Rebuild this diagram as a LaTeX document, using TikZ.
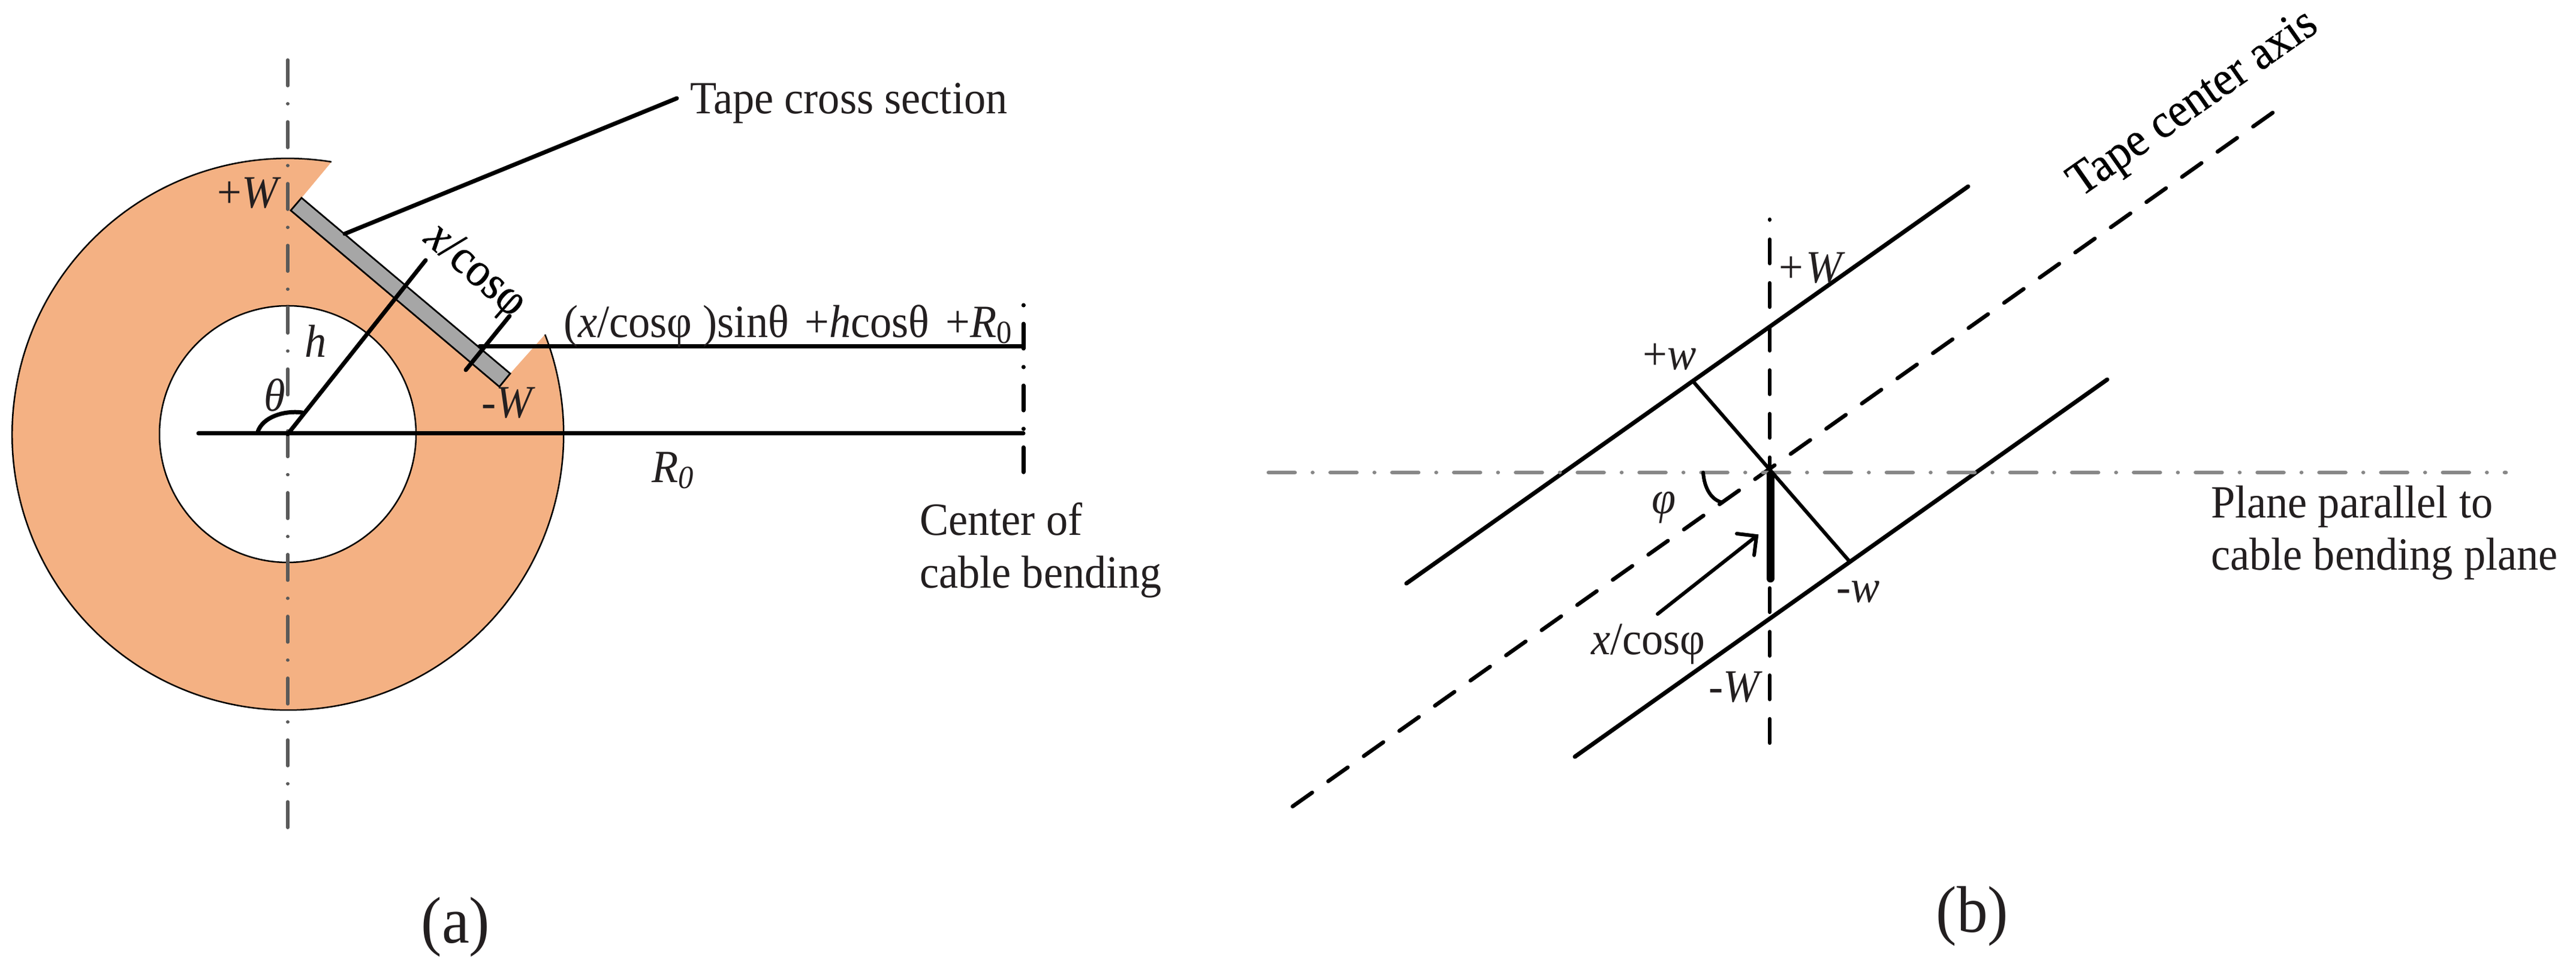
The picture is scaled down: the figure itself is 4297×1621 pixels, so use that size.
\documentclass[tikz,border=0pt]{standalone}
\usepackage{fontspec}
\setmainfont{Liberation Serif}
\newfontfamily\heavier{Liberation Serif}[FakeBold=0.5]
\definecolor{ringc}{RGB}{244,177,131}
\definecolor{tapec}{RGB}{166,166,166}
\definecolor{txt}{RGB}{35,31,32}
\definecolor{axisd}{RGB}{89,89,89}
\definecolor{axisl}{RGB}{136,136,136}
\tikzset{
  lbl/.style={font=\fontsize{7.7}{9}\selectfont,text=txt,inner sep=0pt,outer sep=0pt,xscale=0.94},
  hvy/.style={font=\fontsize{8}{9}\selectfont\heavier,text=black,inner sep=0pt,outer sep=0pt,xscale=0.94},
  capt/.style={font=\fontsize{11}{12}\selectfont,text=txt,inner sep=0pt,xscale=0.94},
  ln/.style={line width=0.7pt,line cap=round,black},
  thn/.style={line width=0.6pt,line cap=round,black},
  thinl/.style={line width=0.25pt,black},
  cdash/.style={line width=0.65pt,line cap=round,black,dash pattern=on 4.0pt off 3.27pt},
  ddotA/.style={line width=0.55pt,line cap=round,axisd,dash pattern=on 4.3pt off 3pt on 0.01pt off 3pt},
  ddotB/.style={line width=0.65pt,line cap=round,axisl,dash pattern=on 4.4pt off 2.95pt on 0.01pt off 2.95pt},
  ddotC/.style={line width=0.7pt,line cap=round,black,dash pattern=on 0.01pt off 3.1pt on 4.1pt off 3.1pt},
}
\newcommand{\gapp}{\kern0.9pt}
\begin{document}
\begin{tikzpicture}[x=0.1pt,y=-0.1pt]
\useasboundingbox (0,0) rectangle (4297,1621);
\fill[white] (0,0) rectangle (4297,1621);
% ---- panel (a) ----
\coordinate (O) at (480,724);
\coordinate (notchA) at (553,270);
\coordinate (notchB) at (908,558);
\coordinate (tA) at (503,330);
\coordinate (tB) at (485,351);
\coordinate (tC) at (833,645);
\coordinate (tD) at (851,623);
\fill[ringc] (notchA) arc[start angle=-80.9,end angle=-381.2,radius=460] -- (tD) -- (tC) -- (tB) -- (tA) -- cycle;
\draw[thinl] (notchA) arc[start angle=-80.9,end angle=-381.2,radius=460];
\draw[thinl,fill=white] (O) circle[radius=214];
\coordinate (axT) at (480,100);
\coordinate (axB) at (480,1382);
\draw[ddotA] (axT) -- (axB);
\draw[line width=0.28pt,fill=tapec,line join=miter] (tA) -- (tB) -- (tC) -- (tD) -- cycle;
\coordinate (hE) at (710,434);
\draw[ln] (O) -- (hE);
\coordinate (xT) at (850,527);
\coordinate (xB) at (777,617);
\draw[ln] (xT) -- (xB);
\coordinate (ldA) at (575,390);
\coordinate (ldB) at (1129,164);
\draw[ln] (ldA) -- (ldB);
\coordinate (lnL) at (331,723);
\coordinate (lnR) at (1707,723);
\draw[ln] (lnL) -- (lnR);
\coordinate (fL) at (800,578);
\coordinate (fR) at (1707,578);
\draw[ln] (fL) -- (fR);
\coordinate (cT) at (1707,509);
\coordinate (cB) at (1707,789);
\draw[ddotC] (cT) -- (cB);
\coordinate (thA) at (430,720);
\coordinate (thB) at (504,688);
\draw[ln] (thA) .. controls (438,696) and (473,684) .. (thB);
\node[lbl,anchor=base west] (tcs) at (1151,190) {Tape cross section};
\node[lbl] (pW) at (416,322) {+\textit{W}};
\node[lbl] (mW) at (848,672) {-\textit{W}};
\node[lbl] (h) at (527,569) {\textit{h}};
\node[lbl] (th) at (458,659) {\textit{θ}};
\node[rotate=-41,hvy] (xc) at (791,453) {\textit{x}/cosφ};
\node[lbl,anchor=base west] (form) at (940,563) {(\textit{x}/cosφ )sinθ\gapp{} +\textit{h}cosθ\gapp{} +\textit{R}\textsubscript{0}};
\node[lbl,anchor=base west] (R0) at (1087,805) {\textit{R\textsubscript{0}}};
\node[lbl,anchor=base west] (ctr1) at (1534,893) {Center of};
\node[lbl,anchor=base west] (ctr2) at (1534,981) {cable bending};
\node[capt] (a) at (760,1546) {(a)};
% ---- panel (b) ----
\coordinate (P) at (2953,788);
\coordinate (uL) at (2346,973);
\coordinate (uR) at (3283,311);
\draw[ln] (uL) -- (uR);
\coordinate (lL) at (2627,1262);
\coordinate (lR) at (3515,633);
\draw[ln] (lL) -- (lR);
\coordinate (mT) at (3791,188);
\coordinate (mB) at (2156,1345);
\draw[cdash] (mT) -- (mB);
\coordinate (vB) at (2952,1239);
\coordinate (vT) at (2952,366);
\draw[cdash] (vB) -- (vT);
\coordinate (gL) at (2116,788);
\coordinate (gR) at (4180,788);
\draw[ddotB] (gL) -- (gR);
\coordinate (wU) at (2825,637);
\coordinate (wD) at (3084,935);
\draw[thn] (wU) -- (wD);
\coordinate (thT) at (2953,792);
\coordinate (thE) at (2953,965);
\draw[line width=1.3pt,line cap=round,black] (thT) -- (thE);
\coordinate (arA) at (2765,1024);
\coordinate (arB) at (2930,894);
\coordinate (arC) at (2897,890);
\coordinate (arD) at (2926,926);
\draw[thn,line join=miter] (arA) -- (arB);
\draw[thn,line join=miter] (arC) -- (arB) -- (arD);
\coordinate (phA) at (2841,788);
\coordinate (phB) at (2873,838);
\draw[thn] (phA) .. controls (2843,815) and (2855,834) .. (phB);
\node[lbl,anchor=base] (pw) at (2785,617) {+\textit{w}};
\node[lbl,anchor=base] (mw) at (3100,1005) {-\textit{w}};
\node[lbl] (pWb) at (3023,447) {+\kern0.5pt\textit{W}};
\node[lbl,anchor=base] (mWb) at (2895,1171) {-\textit{W}};
\node[lbl] (ph) at (2775,847) {\textit{φ}};
\node[lbl,anchor=base west] (xcb) at (2654,1092) {\textit{x}/cosφ};
\node[rotate=35,hvy] (tca) at (3660,175) {Tape center axis};
\node[lbl,anchor=base west] (pl1) at (3688,864) {Plane parallel to};
\node[lbl,anchor=base west] (pl2) at (3688,951) {cable bending plane};
\node[capt] (b) at (3290,1528) {(b)};
\end{tikzpicture}
\end{document}
